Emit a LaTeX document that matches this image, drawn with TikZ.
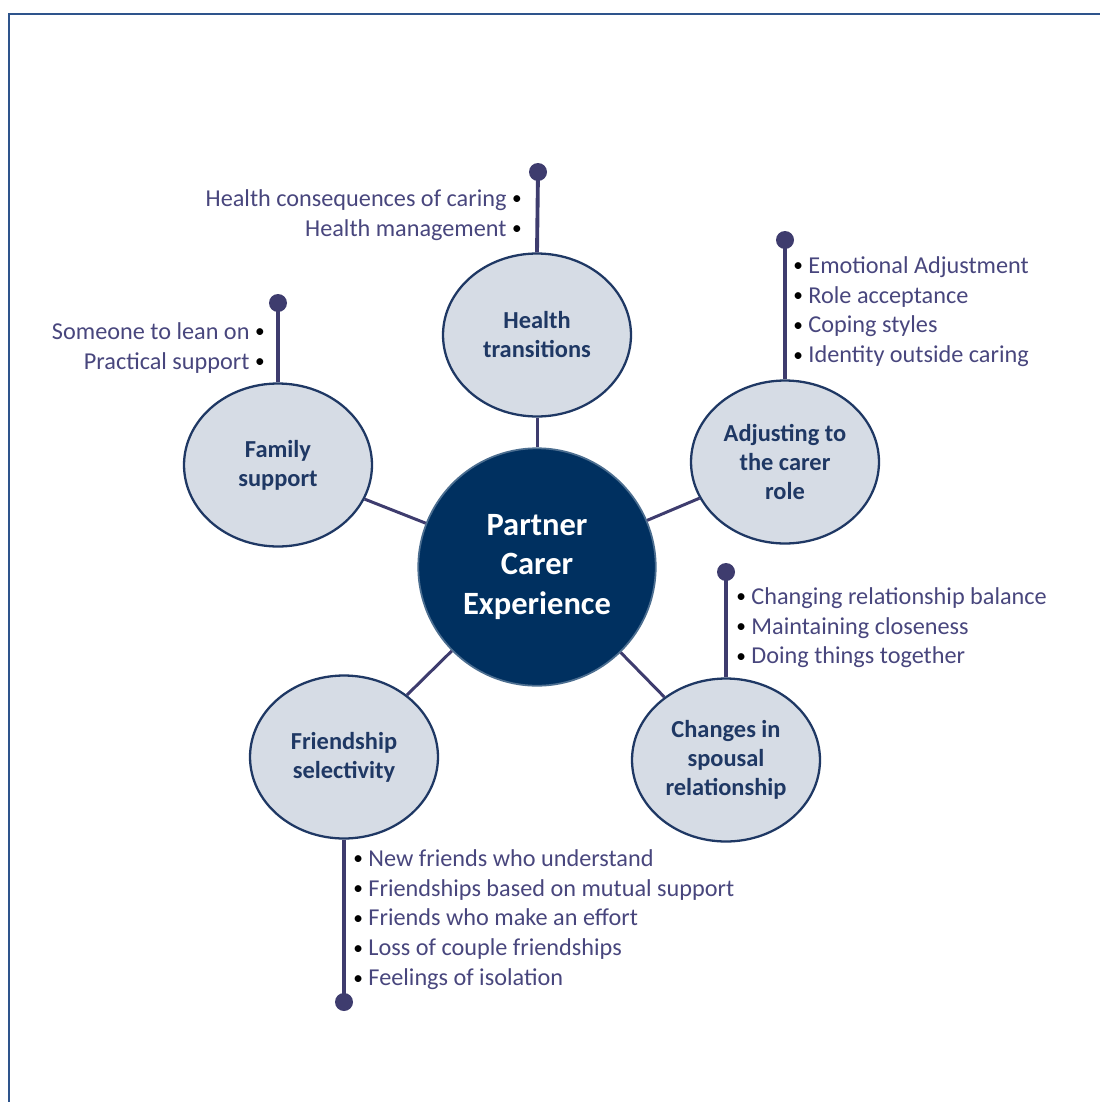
\documentclass[tikz,border=0pt]{standalone}
\usepackage{fontspec}
\setmainfont{Carlito}
\usetikzlibrary{shapes.geometric}

\definecolor{navy}{RGB}{0,48,96}
\definecolor{bubble}{RGB}{214,220,229}
\definecolor{rim}{RGB}{31,56,100}
\definecolor{stemc}{RGB}{62,60,110}
\definecolor{listc}{RGB}{72,70,125}
\definecolor{framec}{RGB}{46,84,140}

\newcommand{\bul}{{\color{black}\raisebox{0.8pt}{\fontsize{11}{11}\selectfont\textbullet}}}

\begin{document}
\begin{tikzpicture}[x=0.02cm,y=-0.02cm,
  topic/.style={ellipse,draw=rim,line width=1.3pt,fill=bubble,text=rim,
    font=\bfseries\fontsize{13.9}{16.5}\selectfont,align=center,
    minimum width=3.76cm,minimum height=3.26cm,inner sep=0pt},
  hub/.style={circle,draw=navy!70!white,line width=1pt,fill=navy,text=white,
    font=\bfseries\fontsize{18.5}{22.7}\selectfont,align=center,minimum size=4.75cm},
  link/.style={stemc,line width=1.7pt},
  stemline/.style={stemc,line width=2.2pt},
  knob/.style={fill=stemc},
  items/.style={text=listc,font=\fontsize{13.8}{17}\selectfont,inner sep=0pt}]

\useasboundingbox (0,0) rectangle (1100,1102);

% Frame
\draw[framec,line width=1.2pt] (9,1102) -- (9,14) -- (1100,14);

% Centre and themes
\node[hub] (pce) at (537,567) {Partner\\Carer\\Experience};
\node[topic] (ht) at (537,335) {Health\\transitions};
\node[topic] (acr) at (785,462) {Adjusting to\\the carer\\role};
\node[topic] (fs) at (278,465) {Family\\support};
\node[topic] (fsel) at (344,757) {Friendship\\selectivity};
\node[topic] (csr) at (726,760) {Changes in\\spousal\\relationship};

% Links to the centre
\foreach \t in {ht,acr,fs,fsel,csr}
  \draw[link] (pce) -- (\t);

% Stems with knobs
\coordinate (htdot) at (538,172);
\coordinate (fsdot) at (278,303);
\coordinate (acrdot) at (785,240);
\coordinate (csrdot) at (726,572);
\coordinate (fseldot) at (344,1002);
\draw[stemline] (ht.north) -- (htdot);
\draw[stemline] (fs.north) -- (fsdot);
\draw[stemline] (acr.north) -- (acrdot);
\draw[stemline] (csr.north) -- (csrdot);
\draw[stemline] (fsel.south) -- (fseldot);
\foreach \d in {htdot,fsdot,acrdot,csrdot,fseldot}
  \fill[knob] (\d) circle (0.18cm);

% Sub-themes
\node[items,align=right,anchor=north east] (htlist) at (522,189)
  {Health consequences of caring \bul\\Health management \bul};
\node[items,align=right,anchor=north east] (fslist) at (265,322)
  {Someone to lean on \bul\\Practical support \bul};
\node[items,align=left,anchor=north west] (acrlist) at (793,256)
  {\bul\ Emotional Adjustment\\\bul\ Role acceptance\\\bul\ Coping styles\\\bul\ Identity outside caring};
\node[items,align=left,anchor=north west] (csrlist) at (736,587)
  {\bul\ Changing relationship balance\\\bul\ Maintaining closeness\\\bul\ Doing things together};
\node[items,align=left,anchor=north west] (fsellist) at (353,849)
  {\bul\ New friends who understand\\\bul\ Friendships based on mutual support\\\bul\ Friends who make an effort\\\bul\ Loss of couple friendships\\\bul\ Feelings of isolation};

\end{tikzpicture}
\end{document}
